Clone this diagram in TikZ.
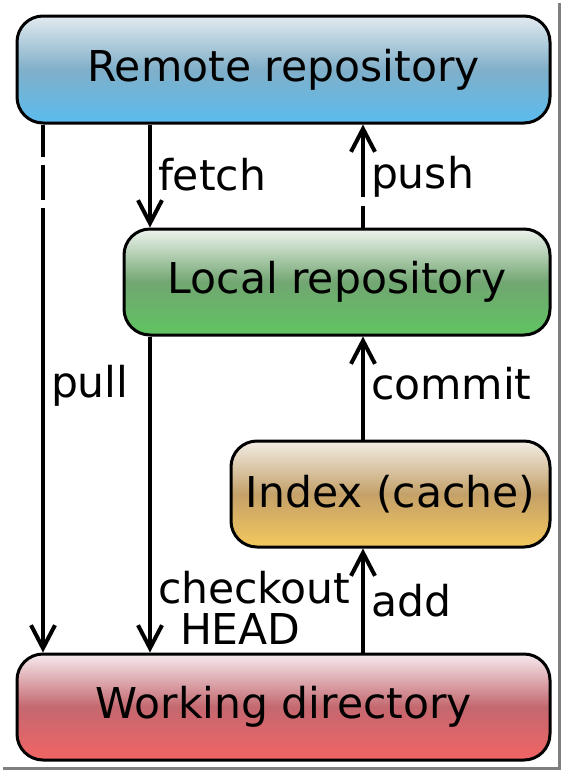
\documentclass[tikz,border=0pt]{standalone}
\usepackage{fontspec}
\setmainfont{DejaVu Sans}
\usetikzlibrary{arrows.meta}
\definecolor{remT}{HTML}{E2EAEF}
\definecolor{remM}{HTML}{80AFC9}
\definecolor{remB}{HTML}{5ABCEE}
\definecolor{locT}{HTML}{EEF4EE}
\definecolor{locM}{HTML}{72A672}
\definecolor{locB}{HTML}{5FC461}
\definecolor{idxT}{HTML}{F2EDE5}
\definecolor{idxM}{HTML}{C4A169}
\definecolor{idxB}{HTML}{F4C75C}
\definecolor{wrkT}{HTML}{F6EAEE}
\definecolor{wrkM}{HTML}{C4686F}
\definecolor{wrkB}{HTML}{F26464}
\definecolor{framegray}{HTML}{7F7F7F}
\begin{document}
\begin{tikzpicture}[x=1pt,y=-1pt,
  txt/.style={font=\fontsize{42.5}{41}\selectfont},
  box/.style={txt, draw=black, line width=3pt, rounded corners=26pt,
    inner sep=0pt, minimum height=106pt},
  conn/.style={line width=4pt, -{Straight Barb[length=23pt,width=24pt]}},
  lbl/.style={txt, right, inner sep=0pt, xshift=6pt, align=left}]
\useasboundingbox (0,0) rectangle (563,772);
\fill[white] (0,0) rectangle (563,772);
% frame shadow
\draw[framegray, line width=2.5pt] (559.5,3) -- (559.5,768.5) -- (3,768.5);
% boxes
\node[box, minimum width=533pt, minimum height=107pt,
  top color=remT, bottom color=remB, middle color=remM] (remote) at (283.5,69.5) {Remote repository};
\node[box, minimum width=426pt,
  top color=locT, bottom color=locB, middle color=locM] (local) at (337,282) {Local repository};
\node[box, minimum width=319pt,
  top color=idxT, bottom color=idxB, middle color=idxM] (index) at (390.5,494) {Index (cache)};
\node[box, minimum width=533pt,
  top color=wrkT, bottom color=wrkB, middle color=wrkM] (work) at (283.5,707) {Working directory};
% connector columns
\coordinate (xpull) at (43,0);
\coordinate (xmid) at (150,0);
\coordinate (xright) at (363,0);
% connectors
\draw[conn, dash pattern=on 32pt off 8pt on 35pt off 8pt on 2000pt]
  (remote.south -| xpull) -- node[lbl, pos=0.5, yshift=3pt] {pull} (work.north -| xpull);
\draw[conn] (remote.south -| xmid) -- node[lbl, pos=0.5, yshift=1pt] {fetch} (local.north -| xmid);
\draw[conn, dash pattern=on 22pt off 9pt on 2000pt]
  (local.north -| xright) -- node[lbl, pos=0.5, yshift=-1pt] {push} (remote.south -| xright);
\draw[conn] (local.south -| xmid) -- node[lbl, pos=0.85, yshift=-3pt] {checkout\\\hspace*{22pt}HEAD} (work.north -| xmid);
\draw[conn] (index.north -| xright) -- node[lbl, pos=0.5, yshift=4pt] {commit} (local.south -| xright);
\draw[conn] (work.north -| xright) -- node[lbl, pos=0.5] {add} (index.south -| xright);
\end{tikzpicture}
\end{document}
